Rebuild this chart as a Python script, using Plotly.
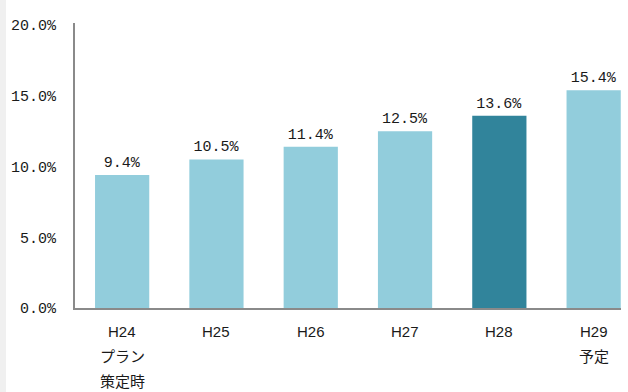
import plotly.graph_objects as go

# Fiscal years and values (%)
years = ["H24", "H25", "H26", "H27", "H28", "H29"]
sub_lines = [["プラン", "策定時"], [], [], [], [], ["予定"]]
values = [9.4, 10.5, 11.4, 12.5, 13.6, 15.4]
bar_colors = ["#92CDDC", "#92CDDC", "#92CDDC", "#92CDDC", "#31849B", "#92CDDC"]
y_ticks = [0, 5, 10, 15, 20]
y_tick_text = ["0.0%", "5.0%", "10.0%", "15.0%", "20.0%"]

W, H = 628, 392
M_L, M_R, M_T, M_B = 75, 7, 23, 84

num_font = "Liberation Mono, DejaVu Sans Mono, monospace"
lbl_font = "Liberation Sans, Arial, Noto Sans CJK JP, sans-serif"
txt_color = "#1a1a1a"

fig = go.Figure(
    go.Bar(
        x=list(range(len(years))),
        y=values,
        marker=dict(color=bar_colors, line=dict(width=0)),
        width=0.575,
        text=[f"{v:.1f}%" for v in values],
        textposition="outside",
        textfont=dict(family=num_font, size=15, color=txt_color),
        cliponaxis=False,
    )
)

# Category labels under the axis, one annotation per line
annotations = []
for i, (yr, extra) in enumerate(zip(years, sub_lines)):
    for j, line in enumerate([yr] + extra):
        annotations.append(dict(
            x=i, y=0, xref="x", yref="y",
            text=line, showarrow=False,
            yanchor="middle", yshift=-23 - 25 * j,
            font=dict(family=lbl_font, size=15, color=txt_color),
        ))

fig.update_layout(
    width=W, height=H,
    margin=dict(l=M_L, r=M_R, t=M_T, b=M_B),
    paper_bgcolor="white",
    plot_bgcolor="white",
    showlegend=False,
    annotations=annotations,
    shapes=[dict(
        type="rect", xref="paper", yref="paper", layer="below",
        x0=-M_L / (W - M_L - M_R), x1=(6 - M_L) / (W - M_L - M_R),
        y0=-M_B / (H - M_T - M_B), y1=1 + M_T / (H - M_T - M_B),
        fillcolor="#f0f0f0", line=dict(width=0),
    )],
    xaxis=dict(
        range=[-0.5, 5.29],
        showticklabels=False, ticks="",
        showgrid=False, zeroline=False,
        showline=True, linecolor="#8a8a8a", linewidth=2,
    ),
    yaxis=dict(
        range=[0, 20.15],
        tickvals=y_ticks, ticktext=y_tick_text,
        tickfont=dict(family=num_font, size=15, color=txt_color),
        ticks="", ticklabelstandoff=14,
        showgrid=False, zeroline=False,
        showline=True, linecolor="#8a8a8a", linewidth=2,
    ),
)

fig.write_html("out.html")
